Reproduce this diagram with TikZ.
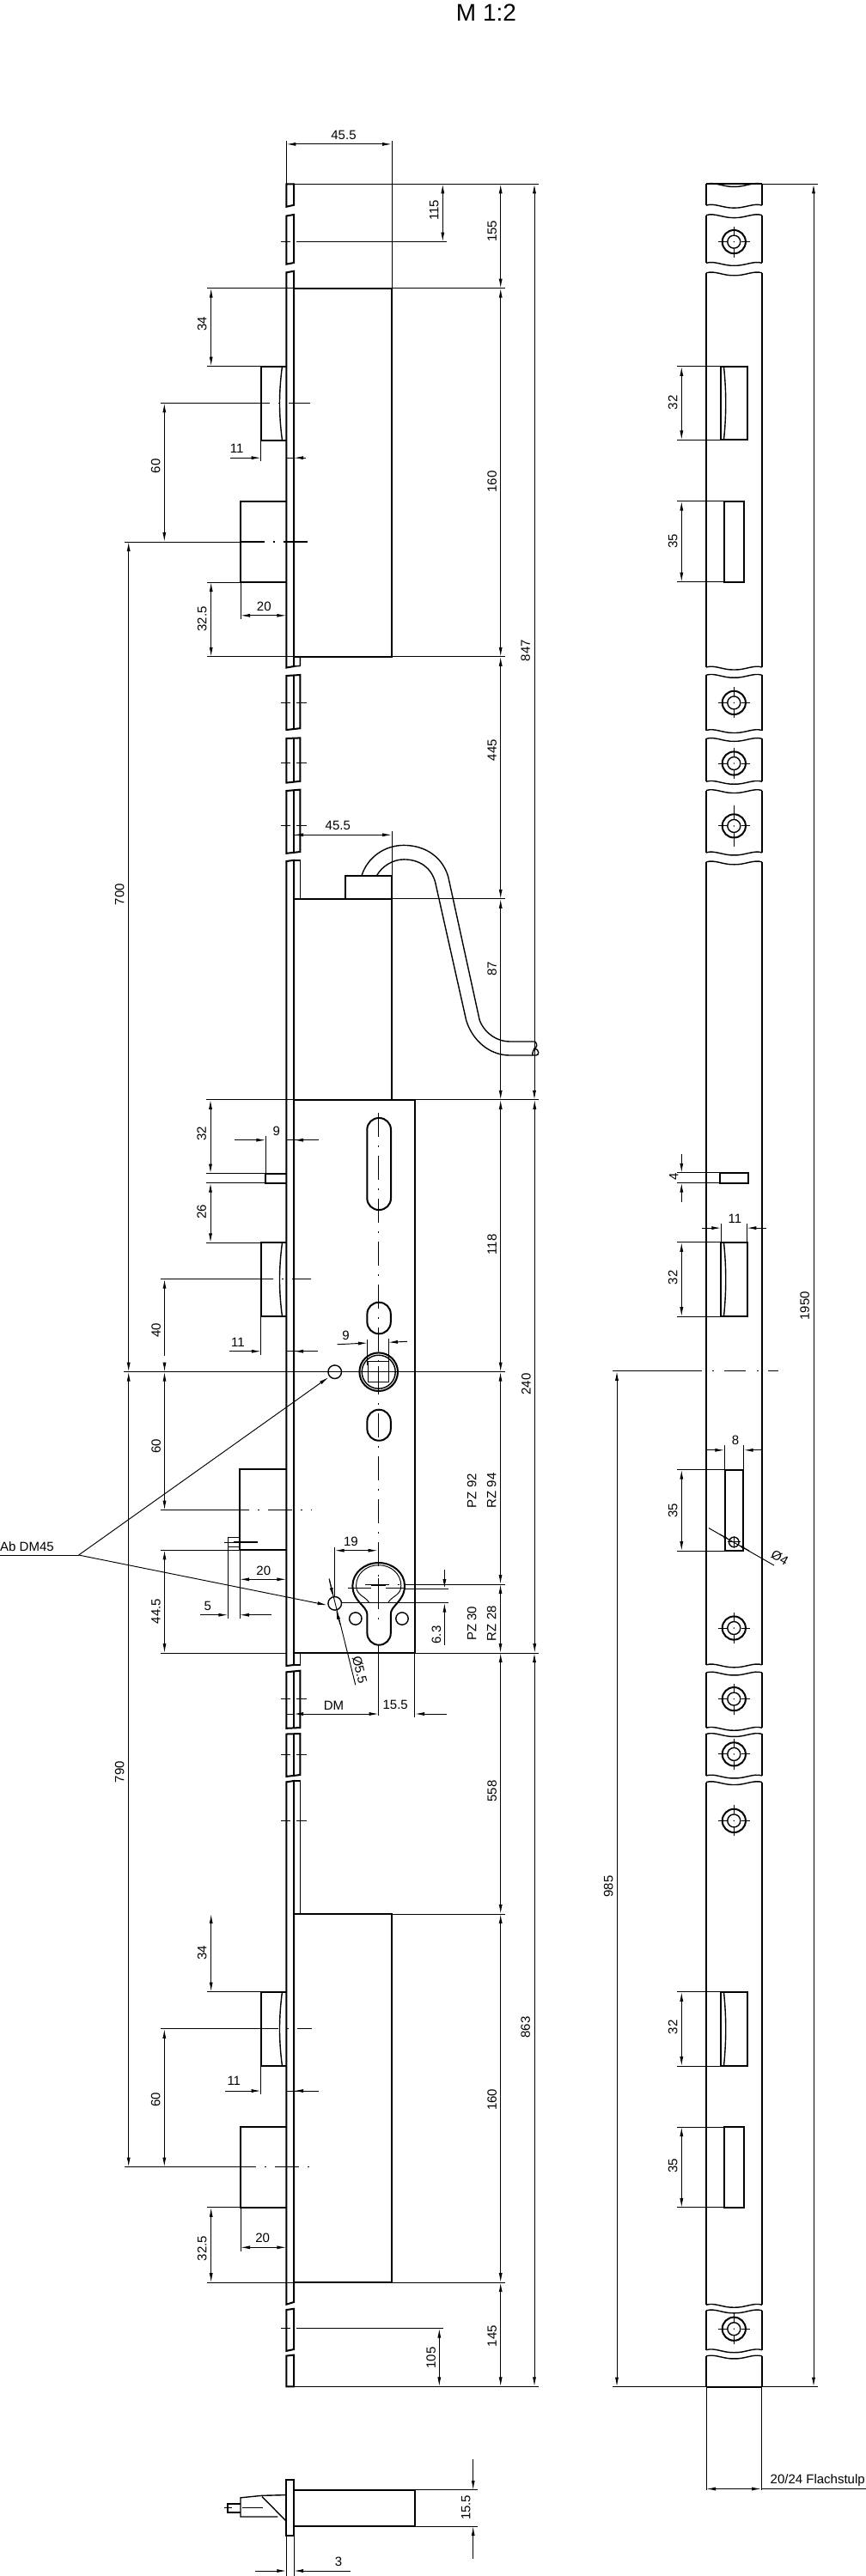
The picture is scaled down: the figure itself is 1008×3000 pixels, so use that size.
\documentclass[tikz,border=0pt]{standalone}
\usepackage{fontspec}
\setmainfont{Liberation Sans}
\usetikzlibrary{arrows.meta}
\tikzset{
  obj/.style={line width=2pt,line join=miter},
  mid/.style={line width=1.4pt},
  thin/.style={line width=0.95pt},
  dimm/.style={line width=0.95pt,{Latex[length=11pt,width=4pt]}-{Latex[length=11pt,width=4pt]}},
  dimr/.style={line width=0.95pt,-{Latex[length=11pt,width=4pt]}},
  diml/.style={line width=0.95pt,{Latex[length=11pt,width=4pt]}-},
  dims/.style={line width=0.95pt,-{Latex[length=7pt,width=3.5pt]}},
  cen/.style={line width=1.1pt,dash pattern=on 28pt off 10pt on 2pt off 10pt},
  lab/.style={inner sep=0pt,font=\fontsize{15}{18}\selectfont},
  vlab/.style={lab,rotate=90}
}
% left view plate segment: right x, y left top, y right top, y left bottom, y right bottom
\newcommand{\pseg}[5]{\draw[obj] (333.3,#2) -- (333.3,#4) -- (#1,#5) -- (#1,#3) -- cycle;
  \ifdim #1pt>343pt \draw[mid] (342,#3) -- (342,#5);\fi}
\newcommand{\hcross}[1]{\draw[thin] (327,#1) -- (338.3,#1) (345,#1) -- (356.7,#1);}
\newcommand{\llatch}[2]{\draw[obj] (333.3,#1) -- (303.7,#1) -- (303.7,#2) -- (333.3,#2);
  \draw[mid] (328.5,#1) .. controls (324.5,{#1+(#2-#1)*0.35}) and (324.5,{#1+(#2-#1)*0.65}) .. (328.5,#2);}
% right view
\newcommand{\wave}[1]{(822,#1) .. controls (832,{#1-3}) and (842,{#1+3.5}) .. (854.5,{#1+3}) .. controls (867,{#1+3.5}) and (877,{#1-3}) .. (887,#1)}
\newcommand{\rseg}[2]{\draw[obj] (822,#1) -- (822,#2) (887,#1) -- (887,#2); \draw[mid] \wave{#1}; \draw[mid] \wave{#2};}
\newcommand{\ros}[2]{\draw[obj] (854.3,#1) circle (13.6pt); \draw[mid] (854.3,#1) circle (7.5pt);
  \fill (854.3,#1) circle (0.8pt);
  \draw[thin] (835.5,#1) -- (846,#1) (862.5,#1) -- (873,#1) (854.3,{#1-#2}) -- (854.3,{#1-8}) (854.3,{#1+8}) -- (854.3,{#1+#2});}
\newcommand{\rlatch}[2]{\draw[obj] (839.3,#1) rectangle (870,#2);
  \draw[mid] (842.5,#1) .. controls (845.5,{#1+(#2-#1)*0.35}) and (845.5,{#1+(#2-#1)*0.65}) .. (842.5,#2);}
\begin{document}
\begin{tikzpicture}[x=1pt,y=-1pt]
\useasboundingbox (0,0) rectangle (1008,3000);
\node[inner sep=0pt,font=\fontsize{28}{32}\selectfont] (title) at (566,15) {M 1:2};

%% ------ left view: plate
\pseg{342}{214.3}{214.3}{240.8}{238.8}
\pseg{342}{251.5}{250}{307.7}{306}
\pseg{342}{317.3}{315.8}{777.6}{776}
\draw[mid] (342,764.8) -- (349.3,764.8) -- (349.3,775.5) -- (342,776);
\pseg{349.3}{787}{786}{850}{848.2}
\pseg{349.3}{860}{859.4}{911.6}{909.8}
\pseg{349.3}{921}{919.6}{993.8}{992}
\pseg{342}{1003}{1001.8}{1940}{1939}
\draw[mid] (342,1001.8) -- (349.3,1001.8) -- (349.3,1046.9);
\draw[mid] (342,1925) -- (349.3,1925) -- (349.3,1939) -- (342,1939);
\pseg{349.3}{1947.3}{1945.7}{2012.8}{2012}
\pseg{349.3}{2019.5}{2019}{2068.9}{2067}
\pseg{342}{2075.3}{2074}{2683.7}{2681}
\draw[mid] (342,2074) -- (349.3,2074) -- (349.3,2229);
\pseg{342}{2690}{2688.8}{2737.9}{2736}
\pseg{342}{2743.6}{2742.6}{2779.3}{2779.3}
\hcross{281.6}\hcross{818.75}\hcross{888.8}\hcross{961.6}\hcross{1978.7}\hcross{2043.4}\hcross{2120.5}\hcross{2711.7}

%% cases
\draw[obj] (342,335.7) -- (456,335.7) -- (456,764.8) -- (342,764.8);
\draw[obj] (342,1046.9) -- (456,1046.9) -- (456,1280.8);
\draw[obj] (401.7,1046.9) -- (401.7,1020) -- (456,1020) -- (456,1046.9);
\draw[obj] (342,1280.8) -- (482.7,1280.8) -- (482.7,1925) -- (349.3,1925);
\draw[obj] (342,2229) -- (456,2229) -- (456,2658.2) -- (342,2658.2);

%% handle
\draw[mid] (421,1019.6) .. controls (428,998) and (448,984.4) .. (470,984.4) .. controls (495,984.4) and (515,998) .. (521.7,1021) -- (558.3,1188.4) .. controls (565,1205) and (580,1213) .. (593.3,1213) -- (622.7,1213);
\draw[mid] (438.3,1020) .. controls (445,1008) and (458,1000.9) .. (470,1000.9) .. controls (488,1000.9) and (502,1010) .. (506.7,1027.7) -- (542.7,1188.4) .. controls (550,1212) and (570,1229) .. (593.3,1229) -- (620,1229);
\draw[mid] (622.7,1213) .. controls (626,1216) and (625,1220) .. (622,1221) .. controls (628,1222) and (628,1229) .. (624,1229) -- (620,1229) .. controls (619,1225) and (622,1223) .. (622,1221);

%% latches and bolts
\llatch{426.5}{512.8}
\draw[obj] (333.3,584.2) -- (280,584.2) -- (280,678) -- (333.3,678);
\draw[obj] (333.3,1366.5) -- (309.3,1366.5) -- (309.3,1377.7) -- (333.3,1377.7);
\llatch{1447.3}{1533.3}
\draw[obj] (333.3,1711.3) -- (279,1711.3) -- (279,1805.3) -- (333.3,1805.3);
\draw[mid] (279,1790.7) -- (265.3,1790.7) -- (265.3,1801.7) -- (279,1801.7);
\llatch{2319.5}{2406.2}
\draw[obj] (333.3,2477) -- (280,2477) -- (280,2570.8) -- (333.3,2570.8);

%% left view: extension and centre lines
\draw[thin] (333.3,163.8) -- (333.3,214.3);
\draw[thin] (456,163.8) -- (456,335.7);
\draw[thin] (342,214.3) -- (626.7,214.3);
\draw[thin] (356.7,281.6) -- (520,281.6);
\draw[thin] (241,335.7) -- (587.7,335.7);
\draw[thin] (241,426.5) -- (303.7,426.5);
\draw[thin] (186.7,469.4) -- (303.7,469.4);
\draw[thin] (303.7,512.8) -- (303.7,537);
\draw[thin] (145,631) -- (280,631);
\draw[thin] (241,678) -- (280,678);
\draw[thin] (280,678) -- (280,721);
\draw[thin] (241,764.8) -- (587.7,764.8);
\draw[cen] (286,469.4) -- (361,469.4);
\draw[cen] (280,631) -- (364,631);
\draw[thin] (456,968) -- (456,1020);
\draw[thin] (456,1046.9) -- (587.7,1046.9);
\draw[thin] (239.5,1280.8) -- (626.7,1280.8);
\draw[thin] (239.5,1366.5) -- (309.3,1366.5);
\draw[thin] (239.5,1377.7) -- (309.3,1377.7);
\draw[thin] (309.3,1323) -- (309.3,1366.5);
\draw[thin] (239.5,1447.3) -- (303.7,1447.3);
\draw[thin] (186.7,1489.7) -- (290,1489.7);
\draw[cen] (290,1489.7) -- (362,1489.7);
\draw[thin] (303.9,1533.3) -- (303.9,1578.3);
\draw[mid] (144.3,1597.7) -- (587.5,1597.7);
\draw[thin] (186.6,1758.7) -- (262,1758.7);
\draw[cen] (262,1758.7) -- (363,1758.7);
\draw[cen] (272,1796) -- (306,1796);
\draw[thin] (261,1796) -- (272,1796);
\draw[thin] (186.6,1805.3) -- (279,1805.3);
\draw[thin] (279,1805.3) -- (279,1885);
\draw[thin] (265.3,1801.7) -- (265.3,1885);
\draw[thin] (186.6,1925) -- (333.3,1925);
\draw[thin] (482.7,1925) -- (627.3,1925);
\draw[thin] (482.7,1925) -- (482.7,2000);
\draw[thin] (349.3,2229) -- (587.7,2229);
\draw[thin] (241,2319.5) -- (303.7,2319.5);
\draw[thin] (186.7,2362.9) -- (296,2362.9);
\draw[cen] (296,2362.9) -- (363.3,2362.9);
\draw[thin] (303.7,2406.2) -- (303.7,2439);
\draw[thin] (145,2523.6) -- (270,2523.6);
\draw[cen] (270,2523.6) -- (364,2523.6);
\draw[thin] (241,2570.8) -- (280,2570.8);
\draw[thin] (280,2570.8) -- (280,2621.8);
\draw[thin] (241,2658.2) -- (587.7,2658.2);
\draw[thin] (356.7,2711.7) -- (516,2711.7);
\draw[thin] (342,2779.3) -- (626.7,2779.3);

%% lock case details
\draw[obj,rounded corners=13.6pt] (427.3,1302) rectangle (455,1409);
\draw[obj,rounded corners=13.6pt] (427.4,1516.7) rectangle (454.8,1553.3);
\draw[obj,rounded corners=13.6pt] (427.4,1641.7) rectangle (454.8,1677.7);
\draw[cen] (440.7,1295.5) -- (440.7,1895);
\draw[thin] (440.7,1916) -- (440.7,1998);
\draw[mid] (389.7,1597.7) circle (7.8pt);
\draw[obj] (440.7,1597.7) circle (22.3pt);
\draw[mid] (440.7,1597.7) circle (19.5pt);
\draw[mid] (428.5,1585.5) rectangle (452.5,1609.7);
\draw[thin] (433.7,1597.7) -- (447.7,1597.7) (440.7,1590.7) -- (440.7,1604.7);
\draw[mid] (389.7,1867.3) circle (7.8pt);
\draw[obj] (427.4,1902) -- (427.4,1880) .. controls (427,1870) and (410.4,1865) .. (410.4,1846.7) .. controls (410.4,1832) and (424,1820) .. (440.7,1820) .. controls (457.4,1820) and (471,1832) .. (471,1846.7) .. controls (471,1865) and (454.4,1870) .. (454.8,1880) -- (454.8,1902) arc (0:-180:13.7pt) -- cycle;
\draw[thin] (429.5,1866) .. controls (424,1858) and (414.6,1858) .. (414.6,1846.7) .. controls (414.6,1833) and (426,1822.7) .. (440.7,1822.7) .. controls (455.4,1822.7) and (466.8,1833) .. (466.8,1846.7) .. controls (466.8,1858) and (457,1858) .. (452,1866);
\draw[mid] (413.8,1885) circle (7.2pt);
\draw[mid] (468,1885) circle (7.2pt);
\draw[thin] (405,1849) -- (432,1849) (449,1849) -- (471,1849) (440.7,1838) -- (440.7,1856) (432,1846.7) -- (449,1846.7);
\draw[cen,line width=0.8pt] (425,1845) -- (471,1845);
\draw[thin] (471,1845) -- (587.9,1845);
\draw[thin] (471,1850) -- (521.6,1850);
\draw[thin] (397.5,1866.7) -- (522.4,1866.7);
\draw[thin] (389.7,1801.7) -- (389.7,1860);

%% leader
\coordinate (jn) at (91.6,1811);
\coordinate (ldrL) at (0,1811);
\node[lab,anchor=west] (abdm) at (0,1801) {Ab DM45};
\draw[thin] (ldrL) -- (jn);
\coordinate (c1) at (382.3,1604);
\coordinate (c2) at (380.6,1869.3);
\draw[dimr] (jn) -- (c1);
\draw[dimr] (jn) -- (c2);

%% left view dimensions
\draw[dimm] (333.3,167.9) -- (456,167.9);
\node[lab] (d1) at (400,157) {45.5};
\draw[dimm] (515.3,214.3) -- (515.3,281.6);
\node[vlab] (d2) at (505.3,245) {115};
\draw[dimm] (582.7,214.3) -- (582.7,335.7);
\node[vlab] (d3) at (572.7,269.4) {155};
\draw[dimm] (582.7,335.7) -- (582.7,764.8);
\node[vlab] (d4) at (572.7,561) {160};
\draw[dimm] (622,214.3) -- (622,1280.8);
\node[vlab] (d5) at (611.7,757.7) {847};
\draw[dimm] (245.7,335.7) -- (245.7,426.5);
\node[vlab] (d6) at (235.3,377.6) {34};
\draw[dimm] (191.3,469.4) -- (191.3,631);
\node[vlab] (d7) at (181.3,542.9) {60};
\draw[dimr] (268.3,533.2) -- (303.7,533.2);
\draw[diml] (342,533.2) -- (356,533.2);
\draw[thin] (333.3,533.2) -- (342,533.2);
\node[lab] (d8) at (275.7,522) {11};
\draw[dimm] (245.7,678) -- (245.7,764.8);
\node[vlab] (d9) at (235.3,721) {32.5};
\draw[dimm] (280,716.8) -- (333.3,716.8);
\node[lab] (d10) at (307.3,706) {20};
\draw[dimm] (582.7,764.8) -- (582.7,1046.9);
\node[vlab] (d11) at (572.7,873.7) {445};
\draw[dimm] (582.7,1046.9) -- (582.7,1280.8);
\node[vlab] (d12) at (572.7,1128) {87};
\draw[dimr] (342,972.3) -- (456,972.3);
\draw[diml] (342,972.3) -- (349,972.3);
\node[lab] (d13) at (393.3,961.2) {45.5};
\draw[dimm] (149.7,1597.7) -- (149.7,631);
\node[vlab] (d14) at (139.3,1041.7) {700};
\draw[dimm] (245,1280.8) -- (245,1366.5);
\node[vlab] (d15) at (234.7,1320) {32};
\draw[dimr] (273,1327.7) -- (309.3,1327.7);
\draw[thin] (333.3,1327.7) -- (370.7,1327.7);
\draw[diml] (342,1327.7) -- (350,1327.7);
\node[lab] (d16) at (321.7,1317) {9};
\draw[dimm] (245,1377.7) -- (245,1447.3);
\node[vlab] (d17) at (234.7,1411.6) {26};
\draw[dimm] (582.7,1280.8) -- (582.7,1597.7);
\node[vlab] (d18) at (572.7,1449.5) {118};
\draw[diml] (191.5,1489.7) -- (191.5,1579);
\draw[dimr] (191.5,1586.7) -- (191.5,1597.7);
\node[vlab] (d19) at (181.6,1549.3) {40};
\draw[dimr] (267.4,1573.7) -- (303.9,1573.7);
\draw[thin] (333.3,1573.7) -- (370.2,1573.7);
\draw[diml] (342,1573.7) -- (350,1573.7);
\node[lab] (d20) at (277,1563.3) {11};
\draw[dimr] (392.6,1565.7) -- (427.9,1564);
\draw[dimr] (473.9,1562.3) -- (452,1563.3);
\draw[thin] (427.4,1560) -- (427.4,1590) (452.3,1559.3) -- (452.3,1585);
\node[lab] (d21) at (402.6,1555) {9};
\draw[dimm] (191.5,1597.7) -- (191.5,1758.7);
\node[vlab] (d22) at (181.6,1684) {60};
\draw[dimm] (191.5,1805.3) -- (191.5,1925);
\node[vlab] (d23) at (181.6,1876.7) {44.5};
\draw[dimm] (279,1839.3) -- (333.3,1839.3);
\node[lab] (d24) at (306.8,1829) {20};
\draw[dimr] (233.4,1880.7) -- (265.3,1880.7);
\draw[dimr] (315.5,1880.7) -- (279,1880.7);
\node[lab] (d25) at (241.7,1870) {5};
\draw[dimm] (389.7,1805.7) -- (439.5,1805.7);
\node[lab] (d26) at (408.4,1795) {19};
\draw[dimr] (517.4,1828.3) -- (517.4,1850);
\draw[dimr] (517.4,1915.7) -- (517.4,1866.7);
\node[vlab] (d27) at (507.9,1904) {6.3};
\draw[dimm] (582.5,1597.7) -- (582.5,1845);
\draw[dimm] (582.5,1845) -- (582.5,1925);
\node[vlab] (d28) at (549.3,1736) {PZ 92};
\node[vlab] (d29) at (572.1,1736) {RZ 94};
\node[vlab] (d30) at (549.3,1890.7) {PZ 30};
\node[vlab] (d31) at (572.1,1890.7) {RZ 28};
\node[vlab] (d32) at (612.4,1612) {240};
\draw[dimm] (622.3,1280.8) -- (622.3,1925);
\draw[thin] (383,1838.3) -- (413.8,1962.3);
\draw[dimr] (383.5,1840) -- (388,1860);
\draw[dimr] (396,1892) -- (391.2,1875);
\node[lab,rotate=-76] (d33) at (418.7,1945) {Ø5.5};
\draw[dimr] (360,1996) -- (440.7,1996);
\draw[diml] (342,1996) -- (360,1996);
\draw[thin] (333.3,1996) -- (342,1996);
\node[lab] (d34) at (388.5,1986) {DM};
\draw[dimr] (519.5,1996) -- (483,1996);
\node[lab] (d35) at (460.2,1985) {15.5};
\draw[dimm] (582.7,1925) -- (582.7,2229);
\node[vlab] (d36) at (572.7,2086) {558};
\draw[dimm] (149.7,1597.7) -- (149.7,2523.6);
\node[vlab] (d37) at (139.3,2063.8) {790};
\draw[dimm] (245.7,2229) -- (245.7,2319.5);
\node[vlab] (d38) at (235.3,2274.2) {34};
\draw[dimm] (191.3,2362.9) -- (191.3,2523.6);
\node[vlab] (d39) at (181.3,2445.2) {60};
\draw[dimr] (262.3,2435) -- (303.7,2435);
\draw[thin] (333.3,2435) -- (370.7,2435);
\draw[diml] (342,2435) -- (350,2435);
\node[lab] (d40) at (272.3,2423.5) {11};
\draw[dimm] (245.7,2570.8) -- (245.7,2658.2);
\node[vlab] (d41) at (235.3,2618.6) {32.5};
\draw[dimm] (280,2617.3) -- (333.3,2617.3);
\node[lab] (d42) at (305.7,2605.9) {20};
\draw[dimm] (582.7,2229) -- (582.7,2658.2);
\node[vlab] (d43) at (572.7,2445.2) {160};
\draw[dimm] (622,1925) -- (622,2779.3);
\node[vlab] (d44) at (611.7,2361) {863};
\draw[dimm] (511.3,2711.7) -- (511.3,2779.3);
\node[vlab] (d45) at (501.7,2746) {105};
\draw[dimm] (582.7,2658.2) -- (582.7,2779.3);
\node[vlab] (d46) at (572.7,2720.7) {145};

%% bottom small view
\draw[obj] (333.3,2888.4) rectangle (342,2953.4);
\draw[obj] (342,2899.9) rectangle (482.7,2942);
\draw[mid] (333.3,2905.6) -- (305,2906.3) -- (280,2908.8) -- (280,2931) -- (323.3,2931);
\draw[mid] (305,2907.5) -- (333.3,2936.2);
\draw[mid] (280,2915.8) -- (265,2915.8) -- (265,2926) -- (280,2926);
\draw[thin] (261,2920.9) -- (270,2920.9);
\draw[cen] (282,2920.9) -- (306,2920.9);
\draw[thin] (482.7,2899.9) -- (555.7,2899.9) (482.7,2942) -- (555.7,2942);
\draw[dimr] (550.7,2864) -- (550.7,2899.9);
\draw[dimr] (550.7,2980) -- (550.7,2942);
\node[vlab] (d47) at (542.3,2920.3) {15.5};
\draw[thin] (333.3,2953.4) -- (333.3,3000) (342,2953.4) -- (342,3000);
\draw[dimr] (296.7,2994) -- (333.3,2994);
\draw[dimr] (408.3,2994) -- (342,2994);
\node[lab] (d48) at (394,2983.4) {3};

%% ------ right view
\draw[obj] (822,214.4) -- (887,214.4);
\rseg{214.4}{239.1}
\rseg{250.6}{306.3}
\rseg{317.8}{777}
\rseg{786.2}{850.5}
\rseg{860.3}{910.2}
\rseg{920.5}{992.9}
\rseg{1003.8}{1938.8}
\rseg{1947.9}{2012.2}
\rseg{2019.4}{2067.9}
\rseg{2075.5}{2684.2}
\rseg{2690.8}{2736.7}
\draw[obj] (822,2743.9) -- (822,2779.6) (887,2743.9) -- (887,2779.6);
\draw[mid] \wave{2743.9};
\draw[obj] (822,2779.6) -- (887,2779.6);
\ros{281.6}{18}\ros{818.4}{18}\ros{889}{18}\ros{961.9}{24}
\ros{1896}{18}\ros{1978.6}{18}\ros{2042.9}{18}\ros{2120.4}{18}\ros{2712.2}{18}
\rlatch{426.8}{512.4}
\draw[obj] (843.3,583.6) rectangle (865.7,677.7);
\draw[obj] (838.3,1365.8) rectangle (870.7,1377.6);
\rlatch{1446.9}{1533.2}
\draw[obj] (843.7,1711.7) rectangle (865.3,1806.1);
\rlatch{2319.9}{2406.1}
\draw[obj] (843.3,2477) rectangle (865.7,2570.9);
\draw[mid] (854.3,1795.9) circle (5.8pt);
\draw[thin] (847,1795.9) -- (862,1795.9) (854.3,1789) -- (854.3,1803);

\draw[thin] (887,214.4) -- (951.7,214.4);
\draw[thin] (713.3,2779.6) -- (951.7,2779.6);
\draw[dimm] (947,214.4) -- (947,2779.6);
\node[vlab] (r1) at (936.7,1520.9) {1950};
\draw[thin] (788.3,426.8) -- (839.3,426.8) (788.3,512.4) -- (839.3,512.4);
\draw[dimm] (793.3,426.8) -- (793.3,512.4);
\node[vlab] (r2) at (783.3,468.7) {32};
\draw[thin] (788.3,583.6) -- (843.3,583.6) (788.3,677.7) -- (843.3,677.7);
\draw[dimm] (793.3,583.6) -- (793.3,677.7);
\node[vlab] (r3) at (783.3,630.6) {35};
\draw[thin] (788.3,1365.8) -- (838.3,1365.8) (788.3,1377.6) -- (838.3,1377.6);
\draw[dimr] (793.3,1344.4) -- (793.3,1365.8);
\draw[dimr] (793.3,1399.5) -- (793.3,1377.6);
\node[vlab] (r4) at (784.3,1369.9) {4};
\draw[thin] (839.3,1425) -- (839.3,1446.9) (869.3,1425) -- (869.3,1446.9);
\draw[dimr] (817.3,1430.1) -- (839.3,1430.1);
\draw[dimr] (891.7,1430.1) -- (869.3,1430.1);
\node[lab] (r5) at (855.3,1418.9) {11};
\draw[thin] (788.3,1446.9) -- (839.3,1446.9) (788.3,1533.2) -- (839.3,1533.2);
\draw[dimm] (793.3,1446.9) -- (793.3,1533.2);
\node[vlab] (r6) at (783.3,1487.8) {32};
\draw[thin] (713.3,1596.9) -- (816.7,1596.9);
\draw[line width=1pt] (829,1596.9) -- (831,1596.9) (843,1596.9) -- (868,1596.9) (881,1596.9) -- (883,1596.9) (894,1596.9) -- (906,1596.9);
\draw[dimm] (718,1596.9) -- (718,2779.6);
\node[vlab] (r7) at (708.3,2196.9) {985};
\draw[thin] (843.3,1683) -- (843.3,1711.7) (865.7,1683) -- (865.7,1711.7);
\draw[dimr] (822,1688.8) -- (843.3,1688.8);
\draw[dimr] (886,1688.8) -- (865.7,1688.8);
\node[lab] (r8) at (856,1677.6) {8};
\draw[thin] (788.3,1711.7) -- (843.7,1711.7) (788.3,1806.1) -- (843.7,1806.1);
\draw[dimm] (793.3,1711.7) -- (793.3,1806.1);
\node[vlab] (r9) at (783.3,1759.2) {35};
\draw[thin] (825,1779.6) -- (901,1823);
\draw[dims] (838,1787) -- (849,1793);
\draw[dims] (872,1806) -- (859.5,1799);
\node[lab,rotate=-30] (r10) at (907.7,1814.3) {Ø4};
\draw[thin] (788.3,2319.9) -- (839.3,2319.9) (788.3,2406.1) -- (839.3,2406.1);
\draw[dimm] (793.3,2319.9) -- (793.3,2406.1);
\node[vlab] (r11) at (783.3,2360.7) {32};
\draw[thin] (788.3,2477) -- (843.3,2477) (788.3,2570.9) -- (843.3,2570.9);
\draw[dimm] (793.3,2477) -- (793.3,2570.9);
\node[vlab] (r12) at (783.3,2522.4) {35};
\draw[thin] (822,2779.6) -- (822,2900) (886,2779.6) -- (886,2900);
\draw[dimm] (822,2898.5) -- (886,2898.5);
\draw[thin] (886,2898.5) -- (1008,2898.5);
\node[inner sep=0pt,font=\fontsize{15}{18}\selectfont] (r13) at (951.7,2888.3) {20/24 Flachstulp};
\end{tikzpicture}
\end{document}
